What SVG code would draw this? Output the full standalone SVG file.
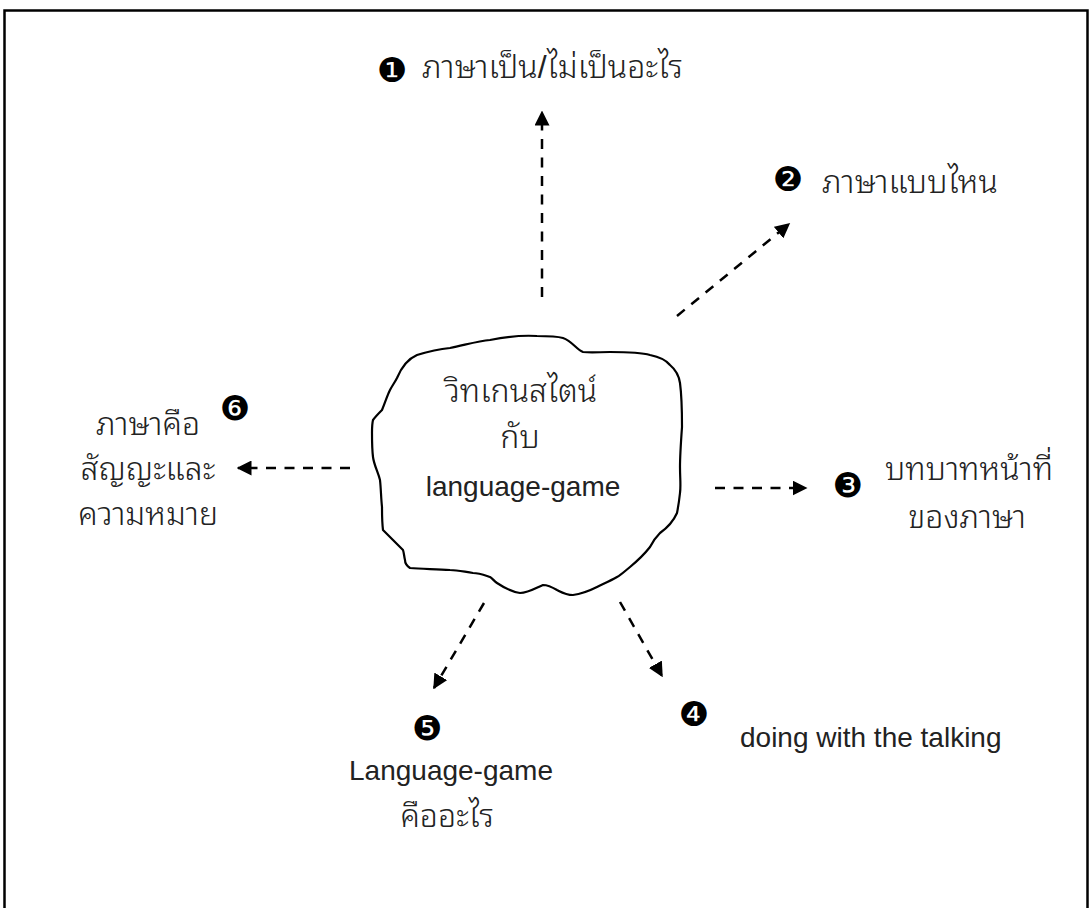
<svg xmlns="http://www.w3.org/2000/svg" width="1091" height="908" viewBox="0 0 1091 908">
  <defs>
    <marker id="head" viewBox="0 0 10 10" refX="9" refY="5" markerWidth="6" markerHeight="6" markerUnits="strokeWidth" orient="auto">
      <path d="M0,0 L10,5 L0,10 Z" fill="#000"/>
    </marker>
    <style>
      .frame { fill: none; stroke: #000; stroke-width: 2.5; }
      .blob { fill: #fff; stroke: #000; stroke-width: 2.2; stroke-linejoin: round; }
      .link { fill: none; stroke: #000; stroke-width: 2.5; stroke-dasharray: 10 8.5; marker-end: url(#head); }
      .t { font-family: "Liberation Sans", "Noto Sans Thai Looped", "Noto Sans Thai", "Noto Sans", sans-serif; font-size: 28px; fill: #222; }
      .th { font-family: "Liberation Sans", "Noto Sans Thai Looped", "Noto Sans Thai", "Noto Sans", sans-serif; font-size: 32px; font-weight: 300; fill: #222; }
      .num { font-family: "DejaVu Sans", sans-serif; font-size: 34px; fill: #000; text-anchor: middle; }
      .mid { text-anchor: middle; }
    </style>
  </defs>

  <!-- outer frame; its bottom edge runs past the canvas -->
  <rect class="frame" x="4.5" y="10.5" width="1083" height="930"/>

  <g id="connectors">
    <line class="link" x1="542" y1="297" x2="542" y2="112"/>
    <line class="link" x1="677" y1="316" x2="789" y2="224"/>
    <line class="link" x1="715" y1="488" x2="806" y2="488"/>
    <line class="link" x1="620" y1="602" x2="662" y2="676"/>
    <line class="link" x1="484" y1="603" x2="434" y2="688"/>
    <line class="link" x1="350" y1="468" x2="238" y2="468"/>
  </g>

  <g id="center">
    <path class="blob" d="M397,378 C402,366 410,358 417,355 C430,351 440,349 450,348 C465,345 478,341 490,340 C505,337 522,335 537,336 C548,336 556,336 563,338 C572,341 577,350 583,352 C592,353 600,352 610,352 C625,352 640,352 650,355 C660,357 666,360 670,365 C676,370 679,376 680,383 C682,398 682,412 682,427 C681,441 680,455 680,467 C680,478 681,486 680,493 C679,502 678,508 677,513 C673,522 667,528 660,533 C655,538 652,543 650,547 C643,556 636,562 630,567 C625,571 621,575 617,577 C610,581 603,584 597,587 C589,591 581,594 573,595 C566,595 561,592 557,590 C552,587 548,585 543,585 C536,588 528,593 520,593 C512,592 503,587 497,583 C494,581 492,578 490,577 C484,575 479,573 473,573 C465,572 458,570 450,570 C436,569 422,569 410,568 C407,566 405,563 405,560 C404,556 404,553 403,550 C399,546 396,543 393,540 C389,536 386,533 383,530 C382,522 382,515 382,507 C381,498 381,489 380,480 C378,472 374,465 373,457 C372,449 372,441 372,433 C372,428 372,424 373,420 C376,416 379,413 382,410 C385,403 387,396 390,390 C392,386 395,382 397,378 Z"/>
    <text class="th mid" x="521" y="402">วิทเกนสไตน์</text>
    <text class="th mid" x="520" y="448">กับ</text>
    <text class="t mid" x="523" y="496">language-game</text>
  </g>

  <g id="n1">
    <text class="num" x="392" y="82">❶</text>
    <text class="th" x="422" y="78">ภาษาเป็น/ไม่เป็นอะไร</text>
  </g>

  <g id="n2">
    <text class="num" x="788" y="191">❷</text>
    <text class="th" x="822" y="193">ภาษาแบบไหน</text>
  </g>

  <g id="n3">
    <text class="num" x="848" y="497">❸</text>
    <text class="th" x="885" y="480">บทบาทหน้าที่</text>
    <text class="th mid" x="967" y="528">ของภาษา</text>
  </g>

  <g id="n4">
    <text class="num" x="694" y="726">❹</text>
    <text class="t" x="740" y="747">doing with the talking</text>
  </g>

  <g id="n5">
    <text class="num" x="427" y="740">❺</text>
    <text class="t mid" x="451" y="780">Language-game</text>
    <text class="th mid" x="447" y="827">คืออะไร</text>
  </g>

  <g id="n6">
    <text class="num" x="235" y="420">❻</text>
    <text class="th mid" x="148" y="435">ภาษาคือ</text>
    <text class="th mid" x="148" y="480">สัญญะและ</text>
    <text class="th mid" x="148" y="525">ความหมาย</text>
  </g>
</svg>
